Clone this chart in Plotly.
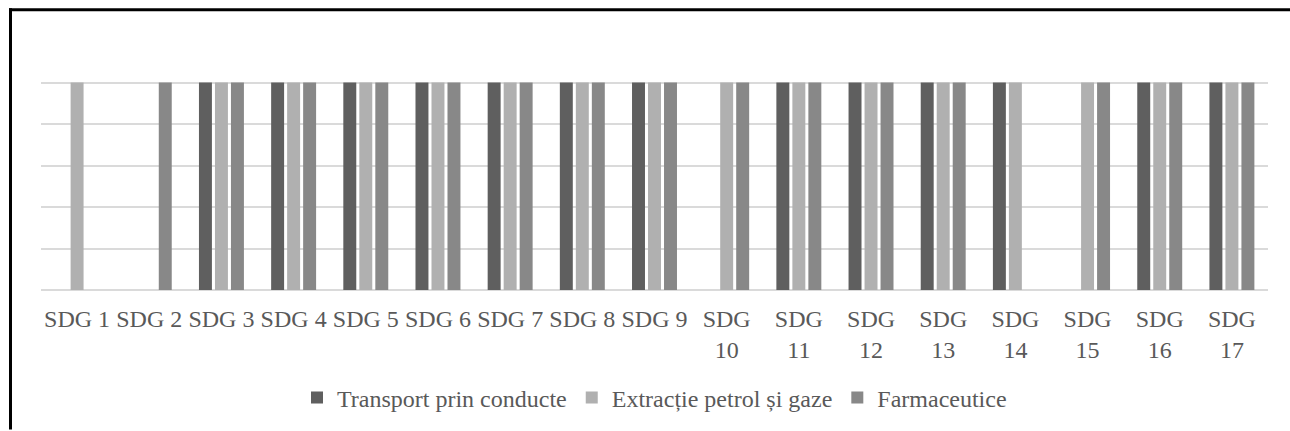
import plotly.graph_objects as go

# Categories and series (1 = the sector addresses the goal)
categories = [f"SDG {i}" for i in range(1, 18)]
transport = [0, 0, 1, 1, 1, 1, 1, 1, 1, 0, 1, 1, 1, 1, 0, 1, 1]
extractie = [1, 0, 1, 1, 1, 1, 1, 1, 1, 1, 1, 1, 1, 1, 1, 1, 1]
farma = [0, 1, 1, 1, 1, 1, 1, 1, 1, 1, 1, 1, 1, 0, 1, 1, 1]

series_names = ["Transport prin conducte", "Extracție petrol și gaze", "Farmaceutice"]
series_colors = ["#5f5f5f", "#b0b0b0", "#888888"]

# Two-digit goals wrap onto two lines
tick_text = [c.replace(" ", "<br>") if len(c) > 5 else c for c in categories]

W, H = 1290, 431
L, R, T, B = 41, 22, 41, 140
PW, PH = W - L - R, H - T - B

fig = go.Figure()
for name, vals, col in zip(series_names, [transport, extractie, farma], series_colors):
    fig.add_trace(go.Bar(x=categories, y=vals, name=name, marker_color=col,
                         marker_line_width=0))

def px_x(p):
    return (p - L) / PW

def px_y(p):
    return (H - B - p) / PH

# Frame lines (top and left edges)
fig.add_shape(type="line", xref="paper", yref="paper",
              x0=px_x(9), x1=px_x(1290), y0=px_y(9.5), y1=px_y(9.5),
              line=dict(color="black", width=3))
fig.add_shape(type="line", xref="paper", yref="paper",
              x0=px_x(10.5), x1=px_x(10.5), y0=px_y(8), y1=px_y(431),
              line=dict(color="black", width=3))

font_family = "Liberation Serif"
fig.update_layout(
    width=W, height=H,
    margin=dict(l=L, r=R, t=T, b=B),
    paper_bgcolor="white", plot_bgcolor="white",
    barmode="group", bargap=0.335, bargroupgap=0.19,
    font=dict(family=font_family, color="#595959", size=24),
    legend=dict(orientation="h", x=0.5, xanchor="center",
                y=px_y(398), yanchor="middle",
                font=dict(family=font_family, size=24, color="#595959"),
                itemclick=False),
    showlegend=True,
)
fig.update_xaxes(tickmode="array", tickvals=categories, ticktext=tick_text,
                 showgrid=False, showline=False, ticks="",
                 ticklabelstandoff=12,
                 tickfont=dict(family=font_family, size=24, color="#595959"))
fig.update_yaxes(range=[0, 1.2], dtick=0.2, showticklabels=False,
                 showgrid=True, gridcolor="#dadada", gridwidth=2,
                 zeroline=True, zerolinecolor="#dadada", zerolinewidth=2)

fig.write_html("out.html")
